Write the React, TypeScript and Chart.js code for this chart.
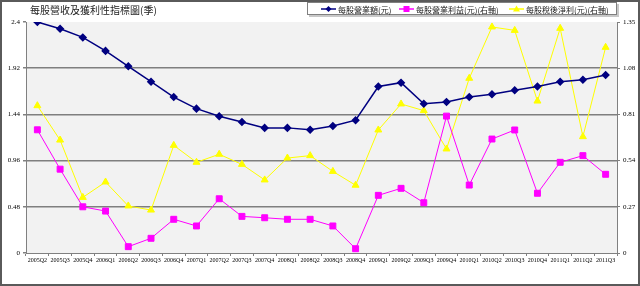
import React, { useEffect, useRef } from "react";
import { Chart, registerables } from "chart.js";

Chart.register(...registerables);

const TITLE = "每股營收及獲利性指標圖(季)";

const quarters = [
  "2005Q2", "2005Q3", "2005Q4", "2006Q1", "2006Q2", "2006Q3", "2006Q4",
  "2007Q1", "2007Q2", "2007Q3", "2007Q4", "2008Q1", "2008Q2", "2008Q3",
  "2008Q4", "2009Q1", "2009Q2", "2009Q3", "2009Q4", "2010Q1", "2010Q2",
  "2010Q3", "2010Q4", "2011Q1", "2011Q2", "2011Q3",
];

const revenueLabel = "每股營業額(元)";
const revenuePerShare = [
  2.40, 2.33, 2.24, 2.10, 1.94, 1.78, 1.62, 1.50, 1.42, 1.36, 1.30, 1.30, 1.28,
  1.32, 1.38, 1.73, 1.77, 1.55, 1.57, 1.62, 1.65, 1.69, 1.73, 1.78, 1.80, 1.85,
];

const opIncomeLabel = "每股營業利益(元)(右軸)";
const opIncomePerShare = [
  0.72, 0.49, 0.27, 0.245, 0.037, 0.086, 0.197, 0.158, 0.317, 0.214, 0.206,
  0.197, 0.197, 0.158, 0.025, 0.337, 0.378, 0.294, 0.80, 0.397, 0.666, 0.719,
  0.349, 0.53, 0.569, 0.46,
];

const netIncomeLabel = "每股稅後淨利(元)(右軸)";
const netIncomePerShare = [
  0.861, 0.66, 0.325, 0.415, 0.275, 0.251, 0.629, 0.53, 0.577, 0.518, 0.427,
  0.555, 0.569, 0.477, 0.396, 0.719, 0.871, 0.832, 0.608, 1.021, 1.321, 1.301,
  0.888, 1.313, 0.68, 1.202,
];

const leftTicks = [0, 0.48, 0.96, 1.44, 1.92, 2.4];
const rightTicks = [0, 0.27, 0.54, 0.81, 1.08, 1.35];

const CJK = '"Noto Sans CJK TC", "Noto Sans CJK SC", sans-serif';
const NUM = '"Liberation Serif", serif';

const decorPlugin = {
  id: "decor",
  beforeDraw(chart: any) {
    const { ctx, chartArea } = chart;
    ctx.save();
    ctx.fillStyle = "#ffffff";
    ctx.fillRect(0, 0, chart.width, chart.height);
    ctx.fillStyle = "#f2f2f2";
    ctx.fillRect(chartArea.left, chartArea.top, chartArea.right - chartArea.left, chartArea.bottom - chartArea.top);
    ctx.restore();
  },
  afterDraw(chart: any) {
    const { ctx } = chart;
    ctx.save();
    // outer border
    ctx.strokeStyle = "#5a5a5a";
    ctx.lineWidth = 2;
    ctx.strokeRect(1, 1, chart.width - 2, chart.height - 2);
    // title
    ctx.fillStyle = "#222";
    ctx.font = `10px ${CJK}`;
    ctx.textBaseline = "middle";
    ctx.textAlign = "left";
    ctx.fillText(TITLE, 30, 10);
    // legend box
    ctx.fillStyle = "#c8c8c8";
    ctx.fillRect(309, 4, 310, 13);
    ctx.fillStyle = "#ffffff";
    ctx.fillRect(307, 2, 310, 13);
    ctx.strokeStyle = "#808080";
    ctx.lineWidth = 1;
    ctx.strokeRect(307.5, 2.5, 309, 12);
    const items = chart.data.datasets.map((ds: any, i: number) => ({ ds, i }));
    const xs = [321, 399, 509];
    items.forEach(({ ds }: any, i: number) => {
      const x0 = xs[i];
      const y = 9;
      ctx.strokeStyle = ds.borderColor;
      ctx.lineWidth = 1.5;
      ctx.beginPath();
      ctx.moveTo(x0, y);
      ctx.lineTo(x0 + 15, y);
      ctx.stroke();
      ctx.fillStyle = ds.pointBackgroundColor;
      const cx = x0 + 7.5;
      ctx.beginPath();
      if (ds.pointStyle === "rectRot") {
        ctx.moveTo(cx, y - 3);
        ctx.lineTo(cx + 3, y);
        ctx.lineTo(cx, y + 3);
        ctx.lineTo(cx - 3, y);
      } else if (ds.pointStyle === "rect") {
        ctx.rect(cx - 3, y - 3, 6, 6);
      } else {
        ctx.moveTo(cx, y - 3.5);
        ctx.lineTo(cx + 3.5, y + 2.5);
        ctx.lineTo(cx - 3.5, y + 2.5);
      }
      ctx.closePath();
      ctx.fill();
      ctx.fillStyle = "#222";
      ctx.font = `8px ${CJK}`;
      ctx.textBaseline = "middle";
      ctx.fillText(ds.label, x0 + 17, y + 0.5);
    });
    ctx.restore();
  },
};

function fmt(v: number) {
  return String(+Number(v).toFixed(2));
}

export default function App() {
  const ref = useRef<HTMLCanvasElement | null>(null);

  useEffect(() => {
    document.body.style.margin = "0";
    const canvas = ref.current;
    if (!canvas) return;
    const chart = new Chart(canvas, {
      type: "line",
      data: {
        labels: quarters,
        datasets: [
          {
            label: revenueLabel,
            data: revenuePerShare,
            yAxisID: "y",
            borderColor: "#000080",
            backgroundColor: "#000080",
            pointBackgroundColor: "#000080",
            pointBorderColor: "#000080",
            pointStyle: "rectRot",
            pointRadius: 3.2,
            borderWidth: 1.5,
            tension: 0,
          },
          {
            label: opIncomeLabel,
            data: opIncomePerShare,
            yAxisID: "y1",
            borderColor: "#ff00ff",
            backgroundColor: "#ff00ff",
            pointBackgroundColor: "#ff00ff",
            pointBorderColor: "#ff00ff",
            pointStyle: "rect",
            pointRadius: 4.2,
            borderWidth: 1,
            tension: 0,
          },
          {
            label: netIncomeLabel,
            data: netIncomePerShare,
            yAxisID: "y1",
            borderColor: "#ffff00",
            backgroundColor: "#ffff00",
            pointBackgroundColor: "#ffff00",
            pointBorderColor: "#ffff00",
            pointStyle: "triangle",
            pointRadius: 4,
            borderWidth: 1,
            tension: 0,
          },
        ],
      },
      options: {
        animation: false,
        responsive: true,
        maintainAspectRatio: false,
        layout: { padding: { top: 22, left: 0, right: 0, bottom: 0 } },
        plugins: {
          legend: { display: false },
          title: { display: false },
          tooltip: { enabled: false },
        },
        scales: {
          x: {
            type: "category",
            offset: true,
            grid: {
              offset: true,
              drawOnChartArea: false,
              drawTicks: true,
              tickLength: 3,
              color: "#808080",
            },
            border: { color: "#808080", width: 1 },
            ticks: {
              autoSkip: false,
              maxRotation: 0,
              minRotation: 0,
              padding: 1,
              color: "#000",
              font: { size: 6, family: NUM },
            },
            afterFit(scale: any) {
              scale.height = 33;
            },
          },
          y: {
            position: "left",
            min: 0,
            max: 2.4,
            afterBuildTicks(scale: any) {
              scale.ticks = leftTicks.map((v) => ({ value: v }));
            },
            ticks: {
              padding: 3,
              color: "#000",
              font: { size: 7, family: NUM },
              callback: (v: any) => fmt(v),
            },
            grid: {
              color: (c: any) =>
                c.tick && (c.tick.value === 2.4 || c.tick.value === 0) ? "rgba(0,0,0,0)" : "#7f7f7f",
              lineWidth: 1.5,
              tickLength: 3,
              tickColor: "#808080",
            },
            border: { color: "#808080", width: 1 },
            afterFit(scale: any) {
              scale.width = 26;
            },
          },
          y1: {
            position: "right",
            min: 0,
            max: 1.35,
            afterBuildTicks(scale: any) {
              scale.ticks = rightTicks.map((v) => ({ value: v }));
            },
            ticks: {
              padding: 3,
              color: "#000",
              font: { size: 7, family: NUM },
              callback: (v: any) => fmt(v),
            },
            grid: {
              drawOnChartArea: false,
              tickLength: 3,
              color: "#808080",
            },
            border: { color: "#808080", width: 1 },
            afterFit(scale: any) {
              scale.width = 23;
            },
          },
        },
      },
      plugins: [decorPlugin],
    });
    return () => chart.destroy();
  }, []);

  return (
    <div style={{ position: "relative", width: 640, height: 286 }}>
      <canvas ref={ref} />
    </div>
  );
}
